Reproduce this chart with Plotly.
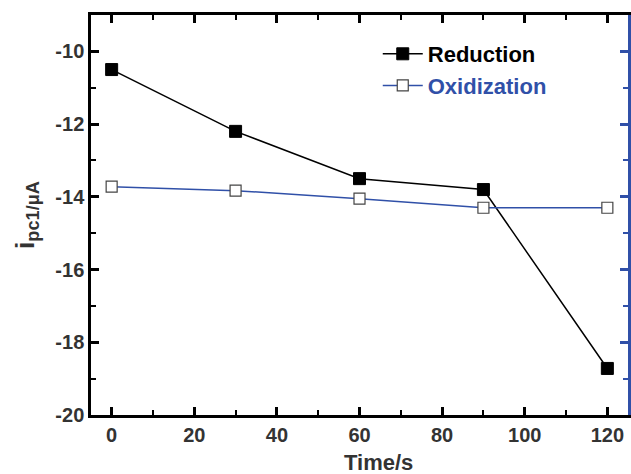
import plotly.graph_objects as go

time_s = [0, 30, 60, 90, 120]
reduction = [-10.5, -12.2, -13.5, -13.8, -18.72]
oxidization = [-13.72, -13.83, -14.05, -14.3, -14.3]
x_ticks = [0, 20, 40, 60, 80, 100, 120]
y_ticks = [-20, -18, -16, -14, -12, -10]
y_ticklabels = ["-20", "-18", "-16", "-14", "-12", "-10"]

BLUE = "#3050a8"
FONT = "Liberation Sans, Arial, sans-serif"
TXT = "#333333"

fig = go.Figure()
fig.add_trace(go.Scatter(x=time_s, y=reduction, mode="lines+markers", name="Reduction",
                         line=dict(color="black", width=1.5),
                         marker=dict(symbol="square", size=12, color="black",
                                     line=dict(color="black", width=1))))
fig.add_trace(go.Scatter(x=time_s, y=oxidization, mode="lines+markers",
                         name="<span style='color:%s'>Oxidization</span>" % BLUE,
                         line=dict(color=BLUE, width=1.5),
                         marker=dict(symbol="square", size=11, color="white",
                                     line=dict(color="#444444", width=1.2))))
# invisible trace for the right (blue) axis
fig.add_trace(go.Scatter(x=[time_s[0]], y=[reduction[0]], yaxis="y2", showlegend=False,
                         hoverinfo="skip", mode="markers", marker=dict(opacity=0)))

fig.update_layout(
    width=631, height=474,
    margin=dict(l=91, r=3, t=15, b=59),
    plot_bgcolor="white", paper_bgcolor="white",
    font=dict(family=FONT, color=TXT),
    xaxis=dict(range=[-5, 125], tickvals=x_ticks,
               ticks="inside", ticklen=8, tickwidth=2.5, tickcolor="black",
               minor=dict(dtick=10, ticks="inside", ticklen=5, tickwidth=2, tickcolor="black"),
               showline=True, linecolor="black", linewidth=2.5, mirror="ticks",
               showgrid=False, zeroline=False,
               tickfont=dict(size=20, weight="bold", color=TXT)),
    yaxis=dict(range=[-20, -9], tickvals=y_ticks, ticktext=y_ticklabels,
               ticks="inside", ticklen=8, tickwidth=2.5, tickcolor="black",
               minor=dict(dtick=1, ticks="inside", ticklen=5, tickwidth=2, tickcolor="black"),
               showline=True, linecolor="black", linewidth=2.5,
               showgrid=False, zeroline=False,
               tickfont=dict(size=20, weight="bold", color=TXT),
               title=dict(text="i<sub>pc1/μA</sub>",
                          font=dict(size=26, weight="bold", color=TXT), standoff=14)),
    yaxis2=dict(range=[-20, -9], overlaying="y", side="right", anchor="x",
                tickvals=y_ticks, showticklabels=False,
                ticks="inside", ticklen=8, tickwidth=2.5, tickcolor=BLUE,
                minor=dict(dtick=1, ticks="inside", ticklen=5, tickwidth=2, tickcolor=BLUE),
                showline=True, linecolor=BLUE, linewidth=2.5,
                showgrid=False, zeroline=False),
    legend=dict(x=0.534, y=0.955, xanchor="left", yanchor="top", bgcolor="rgba(0,0,0,0)",
                font=dict(size=22, weight="bold", color="black"), tracegroupgap=0, itemwidth=40),
    showlegend=True,
    annotations=[dict(text="Time/s", xref="paper", yref="paper", x=0.535, y=0,
                      xanchor="center", yanchor="middle", yshift=-47, showarrow=False,
                      font=dict(size=22, weight="bold", color=TXT))],
)

fig.write_html("out.html")
